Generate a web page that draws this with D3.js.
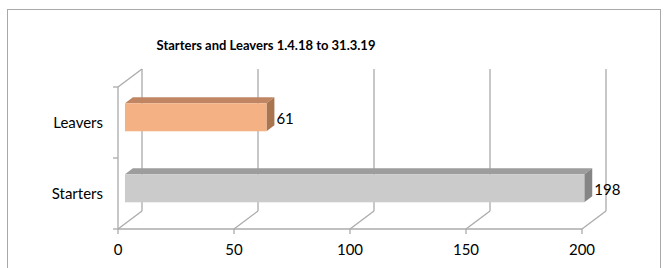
<html>
  <head>
    <meta charset="utf-8" />
    <script src="https://cdnjs.cloudflare.com/ajax/libs/d3/7.6.1/d3.min.js"></script>
    <style>
      body { margin: 0; background: #fff; }
      svg { font-family: Lato, "Open Sans", sans-serif; }
    </style>
  </head>
  <body>
    <svg width="664" height="268"></svg>
  </body>
  <script>
    const title = "Starters and Leavers 1.4.18 to 31.3.19";
    const categories = ["Starters", "Leavers"];
    const values = [198, 61];
    const ticks = [0, 50, 100, 150, 200];
    const frontFill = ["#cbcbcb", "#f4b183"];
    const topFill = ["#9d9d9d", "#c08664"];
    const sideFill = ["#858585", "#a9754f"];

    const svg = d3.select("svg");
    const grid = "#ababab";

    // depth offset of the 3d box (front -> back)
    const dx = 24, dy = -18;
    const barDepth0 = 0.29, barDepth1 = 0.62;

    const x = d3.scaleLinear().domain([0, 200]).range([118, 582]);
    const y = d3.scaleBand().domain(categories).range([229, 87]);

    // outer chart border
    svg.append("rect")
      .attr("x", 7.5).attr("y", 9.5)
      .attr("width", 653).attr("height", 280)
      .attr("fill", "none").attr("stroke", "#a9a9a9");

    svg.append("text")
      .attr("x", 266).attr("y", 45).attr("dy", "0.35em")
      .attr("text-anchor", "middle")
      .style("font-weight", "bold").style("font-size", "13px")
      .text(title);

    // back wall gridlines + floor diagonals
    const g = svg.append("g").attr("stroke", grid).attr("stroke-width", 1.3).attr("fill", "none");
    ticks.forEach((t) => {
      g.append("line")
        .attr("x1", x(t) + dx).attr("x2", x(t) + dx)
        .attr("y1", 87 + dy).attr("y2", 229 + dy);
      g.append("line")
        .attr("x1", x(t)).attr("y1", 229)
        .attr("x2", x(t) + dx).attr("y2", 229 + dy);
      g.append("line")
        .attr("x1", x(t)).attr("x2", x(t))
        .attr("y1", 229).attr("y2", 234);
    });
    // front axis line
    g.append("line").attr("x1", x(0)).attr("x2", x(200)).attr("y1", 229).attr("y2", 229);
    // left wall
    g.append("line").attr("x1", x(0)).attr("x2", x(0)).attr("y1", 87).attr("y2", 229);
    g.append("line").attr("x1", x(0)).attr("y1", 87).attr("x2", x(0) + dx).attr("y2", 87 + dy);
    [87, 158, 229].forEach((yy) => {
      g.append("line").attr("x1", x(0) - 5).attr("x2", x(0)).attr("y1", yy).attr("y2", yy);
    });

    // bars
    const bw = 28;
    const ox = dx * barDepth0, oy = dy * barDepth0;
    const tx = dx * (barDepth1 - barDepth0), ty = dy * (barDepth1 - barDepth0);
    categories.forEach((c, i) => {
      const x0 = x(0) + ox, x1 = x(values[i]) + ox;
      const yc = y(c) + y.bandwidth() / 2 + oy;
      const y0 = yc - bw / 2, y1 = yc + bw / 2;
      const bar = svg.append("g");
      bar.append("path")
        .attr("d", `M${x0},${y0}L${x0 + tx},${y0 + ty}L${x1 + tx},${y0 + ty}L${x1},${y0}Z`)
        .attr("fill", topFill[i]);
      bar.append("path")
        .attr("d", `M${x1},${y0}L${x1 + tx},${y0 + ty}L${x1 + tx},${y1 + ty}L${x1},${y1}Z`)
        .attr("fill", sideFill[i]);
      bar.append("rect")
        .attr("x", x0).attr("y", y0)
        .attr("width", x1 - x0).attr("height", bw)
        .attr("fill", frontFill[i]);
      svg.append("text")
        .attr("x", x1 + tx + 2).attr("y", yc + 1).attr("dy", "0.35em")
        .style("font-size", "15px")
        .text(values[i]);
      svg.append("text")
        .attr("x", 103).attr("y", y(c) + y.bandwidth() / 2).attr("dy", "0.35em")
        .attr("text-anchor", "end")
        .style("font-size", "15px")
        .text(c);
    });

    // x tick labels
    svg.append("g").selectAll("text").data(ticks).join("text")
      .attr("x", (d) => x(d)).attr("y", 250).attr("dy", "0.35em")
      .attr("text-anchor", "middle")
      .style("font-size", "15px")
      .text((d) => d);
  </script>
</html>
